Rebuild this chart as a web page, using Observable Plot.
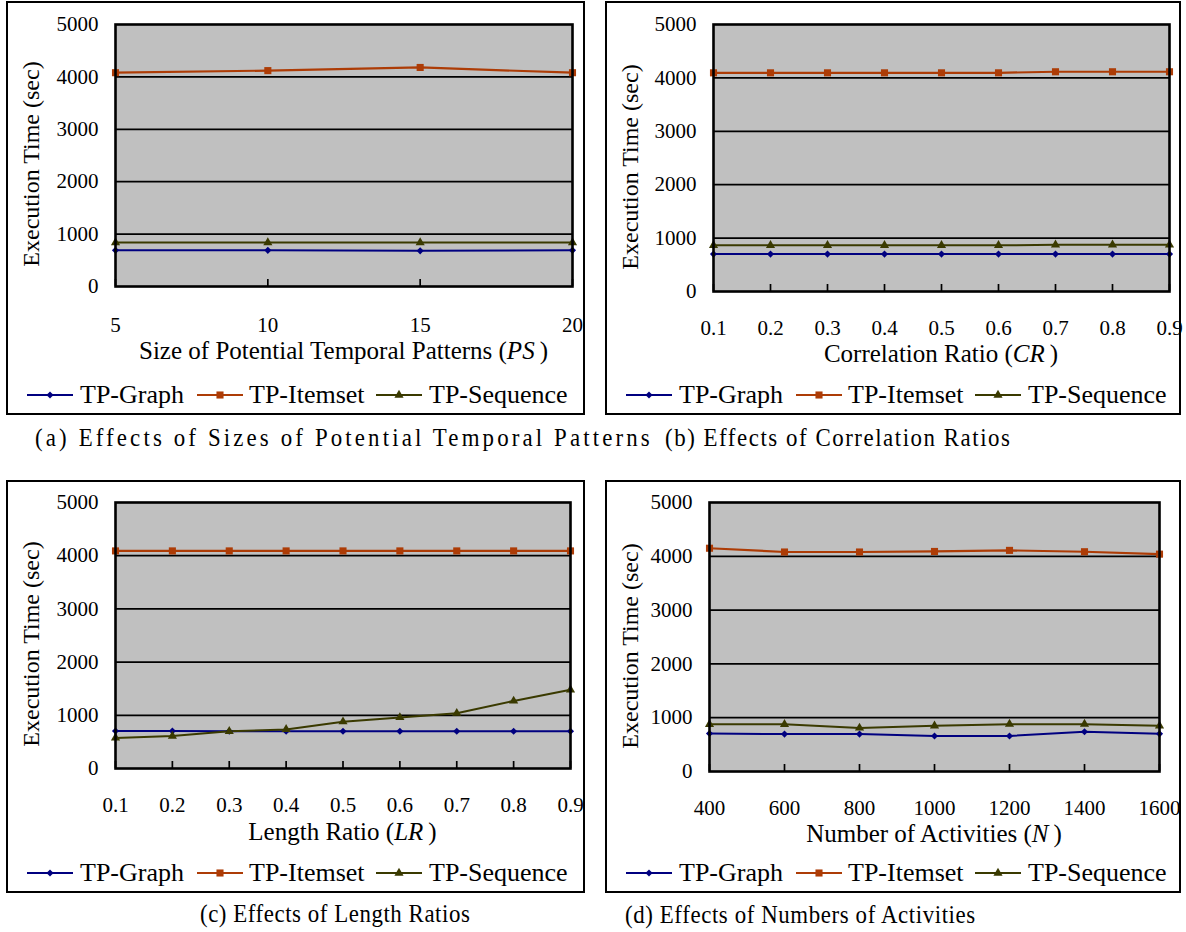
<!DOCTYPE html>
<html><head><meta charset="utf-8">
<script src="https://cdn.jsdelivr.net/npm/d3@7"></script>
<script src="https://cdn.jsdelivr.net/npm/@observablehq/plot@0.6"></script>
<style>
body{margin:0;background:#fff;}
#page{position:relative;width:1186px;height:932px;overflow:hidden;font-family:"Liberation Serif","Times New Roman",serif;color:#000;background:#fff;}
.frame{position:absolute;border:2px solid #000;box-sizing:border-box;}
.abs{position:absolute;white-space:nowrap;}
svg.plotsvg{position:absolute;overflow:visible;}
</style></head><body><div id="page"></div>
<script>
// ---- data ----
const seriesNames = ["TP-Graph", "TP-Itemset", "TP-Sequence"];
const seriesColors = ["#000080", "#ad3c06", "#3a3a00"];
const seriesSymbols = ["diamond2", "square", "triangle"];
const yTicks = [0, 1000, 2000, 3000, 4000, 5000];
const yTitle = "Execution Time (sec)";

const xPS = [5, 10, 15, 20];
const psGraph = [690, 690, 680, 690];
const psItemset = [4080, 4120, 4180, 4080];
const psSequence = [840, 840, 840, 840];

const xCR = [0.1, 0.2, 0.3, 0.4, 0.5, 0.6, 0.7, 0.8, 0.9];
const crGraph = [700, 700, 700, 700, 700, 700, 700, 700, 700];
const crItemset = [4095, 4095, 4095, 4095, 4095, 4095, 4115, 4115, 4115];
const crSequence = [865, 865, 865, 865, 865, 865, 875, 875, 875];

const xLR = [0.1, 0.2, 0.3, 0.4, 0.5, 0.6, 0.7, 0.8, 0.9];
const lrGraph = [705, 705, 700, 700, 700, 700, 700, 700, 700];
const lrItemset = [4090, 4090, 4090, 4090, 4090, 4090, 4090, 4090, 4090];
const lrSequence = [575, 610, 700, 735, 880, 960, 1040, 1270, 1480];

const xN = [400, 600, 800, 1000, 1200, 1400, 1600];
const nGraph = [705, 695, 695, 660, 660, 740, 700];
const nItemset = [4150, 4080, 4080, 4090, 4110, 4085, 4040];
const nSequence = [878, 878, 810, 850, 880, 880, 850];

const panels = [
  {xs: xPS, series: [psGraph, psItemset, psSequence], fmt: d => String(d),
   xTitle: 'Size of Potential Temporal Patterns (<i>PS</i>&#8201;)',
   caption: '(a) Effects of Sizes of Potential Temporal Patterns',
   frame: [6, 1, 585, 415], plot: [115, 24, 572, 286], tickY: 325, titleY: 351, legendY: 395, cap: [35, 650], capY: 438},
  {xs: xCR, series: [crGraph, crItemset, crSequence], fmt: d3.format(".1f"),
   xTitle: 'Correlation Ratio (<i>CR</i>&#8201;)',
   caption: '(b) Effects of Correlation Ratios',
   frame: [605, 1, 1181, 415], plot: [713, 24, 1169, 291], tickY: 328, titleY: 354, legendY: 395, cap: [665, 1010], capY: 438},
  {xs: xLR, series: [lrGraph, lrItemset, lrSequence], fmt: d3.format(".1f"),
   xTitle: 'Length Ratio (<i>LR</i>&#8201;)',
   caption: '(c) Effects of Length Ratios',
   frame: [6, 480, 585, 893], plot: [115, 502, 570, 768], tickY: 805, titleY: 832, legendY: 873, cap: [200, 470], capY: 914},
  {xs: xN, series: [nGraph, nItemset, nSequence], fmt: d => String(d),
   xTitle: 'Number of Activities (<i>N</i>&#8201;)',
   caption: '(d) Effects of Numbers of Activities',
   frame: [605, 480, 1181, 893], plot: [709, 502, 1159, 771], tickY: 808, titleY: 834, legendY: 873, cap: [625, 975], capY: 915}
];

const page = document.getElementById("page");
const FONT = '"Liberation Serif","Times New Roman",serif';
const dotR = [3.2, 4.0, 3.4];
const CAP_SCALE = 0.88;

function addDiv(html, style) {
  const d = document.createElement("div");
  d.className = "abs";
  d.innerHTML = html;
  Object.assign(d.style, style);
  page.appendChild(d);
  return d;
}

panels.forEach(p => {
  const [fl, ft, fr, fb] = p.frame;
  const fd = document.createElement("div");
  fd.className = "frame";
  Object.assign(fd.style, {left: fl + "px", top: ft + "px", width: (fr - fl) + "px", height: (fb - ft) + "px"});
  page.appendChild(fd);

  const [pl, pt, pr, pb] = p.plot;
  const ml = 120, mr = 40, mt = 30, mb = 60;
  const tickPad = p.tickY - pb - 8;
  const marks = [
    Plot.frame({fill: "#c0c0c0"}),
    Plot.ruleY(yTicks.slice(1, -1), {stroke: "#000", strokeWidth: 1.7}),
    Plot.ruleX(p.xs, {y1: 0, y2: 0, insetTop: -7, stroke: "#000", strokeWidth: 1.7}),
    Plot.axisY({ticks: yTicks, tickSize: 0, tickPadding: 17, label: null, tickFormat: d => String(d)}),
    Plot.axisX({ticks: p.xs, tickSize: 0, tickPadding: tickPad, label: null, tickFormat: p.fmt})
  ];
  p.series.forEach((vals, si) => {
    const data = vals.map((v, i) => ({x: p.xs[i], y: v}));
    marks.push(Plot.line(data, {x: "x", y: "y", stroke: seriesColors[si], strokeWidth: si === 1 ? 2.2 : 2}));
  });
  p.series.forEach((vals, si) => {
    const data = vals.map((v, i) => ({x: p.xs[i], y: v}));
    marks.push(Plot.dot(data, {x: "x", y: "y", fill: seriesColors[si], stroke: "none", symbol: () => seriesSymbols[si], r: dotR[si]}));
  });
  marks.push(Plot.frame({stroke: "#000", strokeWidth: 2.6}));

  const svg = Plot.plot({
    width: (pr - pl) + ml + mr, height: (pb - pt) + mt + mb,
    marginLeft: ml, marginRight: mr, marginTop: mt, marginBottom: mb,
    style: {background: "transparent", fontFamily: FONT, fontSize: "21px", color: "#000", overflow: "visible"},
    x: {domain: [p.xs[0], p.xs[p.xs.length - 1]]},
    y: {domain: [0, 5000]},
    symbol: {domain: seriesSymbols, range: seriesSymbols},
    marks
  });
  svg.classList.add("plotsvg");
  svg.style.left = (pl - ml) + "px";
  svg.style.top = (pt - mt) + "px";
  page.appendChild(svg);

  // y title
  addDiv(yTitle, {left: (fl + 25) + "px", top: ((pt + pb) / 2 + 9) + "px", fontSize: "24px",
    transform: "translate(-50%,-50%) rotate(-90deg)", lineHeight: "1"});
  // x title
  addDiv(p.xTitle, {left: ((pl + pr) / 2) + "px", top: p.titleY + "px", fontSize: "25px",
    transform: "translate(-50%,-50%)", lineHeight: "0.9"});
  // legend
  const lineX = [21, 191, 370], textX = [74, 243, 423];
  seriesNames.forEach((name, si) => {
    const ns = "http://www.w3.org/2000/svg";
    const s = document.createElementNS(ns, "svg");
    s.setAttribute("width", 48); s.setAttribute("height", 14);
    s.style.position = "absolute";
    s.style.left = (fl + lineX[si]) + "px";
    s.style.top = (p.legendY - 7) + "px";
    const ln = document.createElementNS(ns, "line");
    ln.setAttribute("x1", 0); ln.setAttribute("x2", 46); ln.setAttribute("y1", 7); ln.setAttribute("y2", 7);
    ln.setAttribute("stroke", seriesColors[si]); ln.setAttribute("stroke-width", 2);
    s.appendChild(ln);
    const sym = {diamond2: d3.symbolDiamond2, square: d3.symbolSquare, triangle: d3.symbolTriangle}[seriesSymbols[si]];
    const pth = document.createElementNS(ns, "path");
    pth.setAttribute("d", d3.symbol(sym, Math.PI * dotR[si] * dotR[si])());
    pth.setAttribute("transform", "translate(23,7)");
    pth.setAttribute("fill", seriesColors[si]);
    s.appendChild(pth);
    page.appendChild(s);
    addDiv(name, {left: (fl + textX[si]) + "px", top: p.legendY + "px", fontSize: "26px",
      transform: "translateY(-50%)", lineHeight: "1"});
  });
  // caption: slightly condensed glyphs, spread to the measured span
  const cd = addDiv(p.caption, {left: p.cap[0] + "px", top: p.capY + "px", fontSize: "26px",
    transform: "translateY(-50%) scaleX(" + CAP_SCALE + ")", transformOrigin: "0 50%", lineHeight: "1"});
  const natural = cd.offsetWidth;
  const n = p.caption.length;
  cd.style.letterSpacing = ((((p.cap[1] - p.cap[0]) / CAP_SCALE) - natural) / (n - 1)) + "px";
});
</script></body></html>
